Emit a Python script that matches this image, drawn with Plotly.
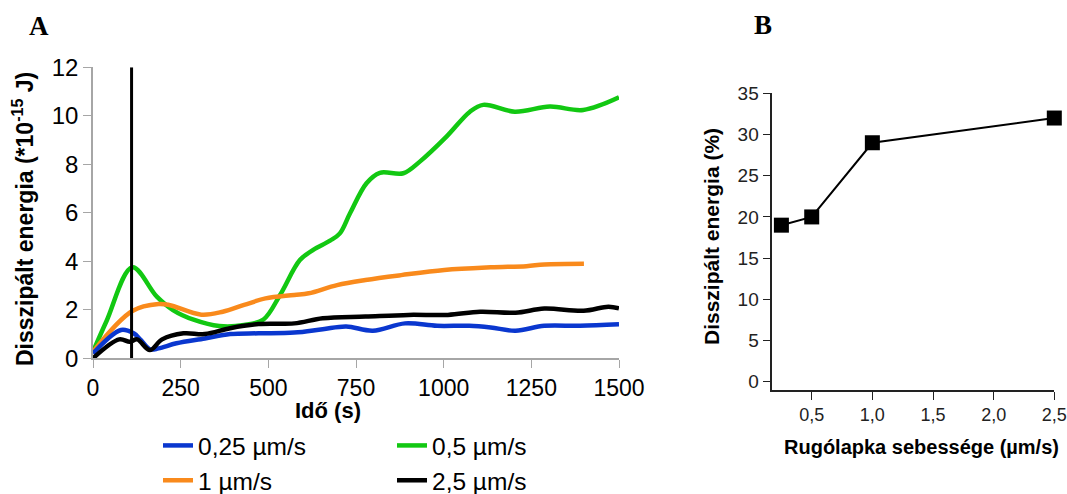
import plotly.graph_objects as go

# --- Panel A: dissipated energy over time, per cantilever speed ---
t_025 = [0, 80, 116, 136, 162, 187, 238, 319, 391, 472, 574, 655, 722, 798, 890, 981, 1073, 1134, 1205, 1287, 1389, 1500]
e_025 = [0.2, 1.17, 1.03, 0.76, 0.37, 0.41, 0.62, 0.82, 1.0, 1.03, 1.06, 1.2, 1.31, 1.14, 1.44, 1.34, 1.34, 1.27, 1.14, 1.34, 1.34, 1.4]

t_05 = [0, 39, 112, 182, 228, 289, 360, 431, 486, 533, 590, 628, 676, 704, 733, 780, 818, 885, 932, 1008, 1075, 1113, 1203, 1303, 1398, 1500]
e_05 = [0.27, 1.55, 3.75, 2.54, 1.99, 1.58, 1.33, 1.37, 1.6, 2.6, 4.05, 4.47, 4.85, 5.15, 5.98, 7.22, 7.65, 7.63, 8.11, 9.14, 10.17, 10.45, 10.17, 10.38, 10.24, 10.76]

t_1 = [0, 112, 187, 217, 309, 370, 431, 492, 574, 615, 696, 777, 879, 1002, 1134, 1236, 1287, 1400]
e_1 = [0.27, 1.95, 2.24, 2.2, 1.8, 1.92, 2.2, 2.47, 2.61, 2.68, 3.02, 3.23, 3.43, 3.64, 3.75, 3.8, 3.87, 3.9]

t_25 = [0, 75, 105, 126, 162, 197, 258, 319, 391, 472, 574, 655, 777, 900, 1012, 1104, 1205, 1287, 1399, 1470, 1500]
e_25 = [0.0, 0.78, 0.68, 0.78, 0.34, 0.78, 1.03, 1.0, 1.24, 1.41, 1.44, 1.65, 1.72, 1.79, 1.79, 1.92, 1.88, 2.05, 1.96, 2.13, 2.06]

marker_time = 110  # vertical reference line (s)

time_ticks = [0, 250, 500, 750, 1000, 1250, 1500]
energy_ticks = [0, 2, 4, 6, 8, 10, 12]

# --- Panel B: dissipated energy share vs. cantilever speed ---
speed = [0.25, 0.5, 1.0, 2.5]
dissipated_pct = [19, 20, 29, 32]
speed_ticks = [0.5, 1.0, 1.5, 2.0, 2.5]
speed_tick_text = ["0,5", "1,0", "1,5", "2,0", "2,5"]
pct_ticks = [0, 5, 10, 15, 20, 25, 30, 35]

W, H = 1067, 494
FONT = "Liberation Sans, Arial, sans-serif"
SERIF = "Liberation Serif, Times New Roman, serif"

BLUE = "#0A37CF"
GREEN = "#12C812"
ORANGE = "#F98A1C"
BLACK = "#000000"

fig = go.Figure()

def series(x, y, name, color, legend):
    return go.Scatter(x=x, y=y, mode="lines", name=name,
                      line=dict(color=color, width=4.5, shape="spline", smoothing=1.0),
                      xaxis="x", yaxis="y", legend=legend)

fig.add_trace(series(t_05, e_05, "0,5 µm/s", GREEN, "legend2"))
fig.add_trace(series(t_1, e_1, "1 µm/s", ORANGE, "legend"))
fig.add_trace(series(t_025, e_025, "0,25 µm/s", BLUE, "legend"))
fig.add_trace(series(t_25, e_25, "2,5 µm/s", BLACK, "legend2"))

fig.add_trace(go.Scatter(x=[marker_time, marker_time], y=[0, 12], mode="lines",
                         line=dict(color=BLACK, width=3), showlegend=False,
                         xaxis="x", yaxis="y"))

fig.add_trace(go.Scatter(x=speed, y=dissipated_pct, mode="lines+markers",
                         line=dict(color=BLACK, width=2),
                         marker=dict(symbol="square", size=15, color=BLACK),
                         cliponaxis=False, showlegend=False,
                         xaxis="x2", yaxis="y2"))

def px_x(p):
    return p / W

def px_y(p):
    return 1 - p / H

gray_axis = "#A6A6A6"

fig.update_layout(
    width=W, height=H,
    margin=dict(l=0, r=0, t=0, b=0, autoexpand=False),
    paper_bgcolor="white", plot_bgcolor="white",
    template="none",
    font=dict(family=FONT, color="black"),
    xaxis=dict(domain=[px_x(93), px_x(619)], range=[0, 1500], anchor="y",
               tickvals=time_ticks, ticks="outside", ticklen=8, tickcolor=gray_axis,
               showline=True, linecolor=gray_axis, linewidth=1.5, showgrid=False,
               zeroline=False, tickfont=dict(size=23, family=FONT, color="black"),
               automargin=False),
    yaxis=dict(domain=[px_y(358.3), px_y(67.3)], range=[0, 12], anchor="x",
               tickvals=energy_ticks, ticks="outside", ticklen=8, tickcolor=gray_axis,
               showline=True, linecolor=gray_axis, linewidth=1.5, showgrid=False,
               zeroline=False, tickfont=dict(size=24, family=FONT, color="black"),
               automargin=False),
    xaxis2=dict(domain=[px_x(772.3), px_x(1054.3)], range=[0.175, 2.5], anchor="y2",
                tickvals=speed_ticks, ticktext=speed_tick_text, ticks="outside",
                ticklen=8, tickcolor="#222", showline=True, linecolor="#222",
                linewidth=1.5, showgrid=False, zeroline=False,
                tickfont=dict(size=18, family=FONT, color="#222"), automargin=False),
    yaxis2=dict(domain=[px_y(390), px_y(93.3)], range=[-1, 35], anchor="x2",
                tickvals=pct_ticks, ticks="outside", ticklen=8, tickcolor="#222",
                showline=True, linecolor="#222", linewidth=1.5, showgrid=False,
                zeroline=False, tickfont=dict(size=19, family=FONT, color="#222"),
                automargin=False),
    legend=dict(x=px_x(158), y=px_y(423), xanchor="left", yanchor="top",
                orientation="v", font=dict(size=24.5, family=FONT, color="black"),
                bgcolor="rgba(0,0,0,0)", traceorder="reversed", tracegroupgap=0),
    legend2=dict(x=px_x(392), y=px_y(423), xanchor="left", yanchor="top",
                 orientation="v", font=dict(size=24.5, family=FONT, color="black"),
                 bgcolor="rgba(0,0,0,0)", tracegroupgap=0),
    showlegend=True,
)

annotations = [
    dict(text="<b>A</b>", x=px_x(39), y=px_y(26), font=dict(family=SERIF, size=27)),
    dict(text="<b>B</b>", x=px_x(763), y=px_y(25), font=dict(family=SERIF, size=27)),
    dict(text="<b>Disszipált energia (*10<sup>-15</sup> J)</b>", x=px_x(23), y=px_y(219),
         textangle=-90, font=dict(family=FONT, size=23)),
    dict(text="<b>Idő (s)</b>", x=px_x(328), y=px_y(410), font=dict(family=FONT, size=22)),
    dict(text="<b>Disszipált energia (%)</b>", x=px_x(712), y=px_y(237),
         textangle=-90, font=dict(family=FONT, size=21)),
    dict(text="<b>Rugólapka sebessége (µm/s)</b>", x=px_x(921), y=px_y(447),
         font=dict(family=FONT, size=20)),
]
for a in annotations:
    a.update(xref="paper", yref="paper", showarrow=False, xanchor="center", yanchor="middle")
fig.update_layout(annotations=annotations)

fig.write_html("out.html")
